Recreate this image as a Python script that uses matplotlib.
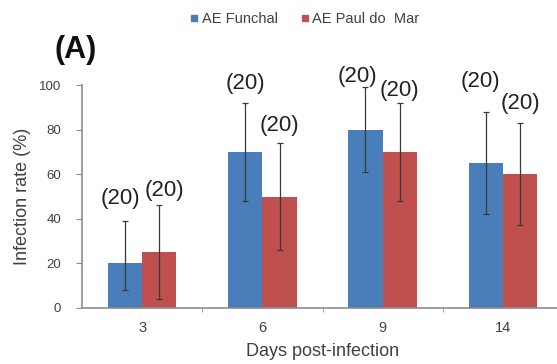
import numpy as np
import matplotlib
matplotlib.use('Agg')
import matplotlib.pyplot as plt
from matplotlib.lines import Line2D

plt.rcParams['font.family'] = ['Liberation Sans', 'DejaVu Sans']

# datos
days = ['3', '6', '9', '14']
funchal = [20, 70, 80, 65]
funchal_lo = [8, 48, 61, 42]     # extremo inferior de la barra de error
funchal_hi = [39, 92, 99, 88]    # extremo superior
paul = [25, 50, 70, 60]
paul_lo = [4, 26, 48, 37]
paul_hi = [46, 74, 92, 83]
n_funchal = [20, 20, 20, 20]
n_paul = [20, 20, 20, 20]

# desplazamiento (px) de las etiquetas "(n)" respecto al extremo superior
off_funchal = [(-5, 23), (0, 19), (-8, 11), (-5, 30)]
off_paul = [(5, 15), (0, 17), (0, 12), (0, 19)]

c_blue = '#4A7EBB'
c_red = '#C0504D'
grey = '#8C8C8C'
txt = '#404040'

fig = plt.figure(figsize=(5.57, 3.64), dpi=100)
ax = fig.add_axes([82 / 557, 56 / 364, 481 / 557, 223 / 364])

x = np.arange(len(days))
w = 0.285

for vals, lo, hi, col, sgn, ns, offs in [
        (funchal, funchal_lo, funchal_hi, c_blue, -1, n_funchal, off_funchal),
        (paul, paul_lo, paul_hi, c_red, 1, n_paul, off_paul)]:
    xs = x + sgn * w / 2
    ax.bar(xs, vals, width=w, color=col, zorder=2)
    vals = np.array(vals)
    yerr = [vals - np.array(lo), np.array(hi) - vals]
    ax.errorbar(xs, vals, yerr=yerr, fmt='none', ecolor='#3a3a3a',
                elinewidth=0.9, capsize=2.5, capthick=0.9, zorder=3)
    for xi, h, n, (dx, dy) in zip(xs, hi, ns, offs):
        ax.annotate(f'({n})', (xi, h), xytext=(dx, dy), textcoords='offset pixels',
                    ha='center', va='center', fontsize=16, color='#222222')

ax.set_xlim(-0.5, 3.5)
ax.set_ylim(0, 100)
ax.set_yticks([0, 20, 40, 60, 80, 100])
ax.set_xticks(x)
ax.set_xticklabels(days)
ax.set_xticks([0.5, 1.5, 2.5], minor=True)
ax.tick_params(axis='x', which='major', length=0, pad=9, labelsize=10.5, colors=txt)
ax.tick_params(axis='x', which='minor', length=3, color=grey)
ax.tick_params(axis='y', length=4, color=grey, labelsize=9.5, colors=txt, pad=11)
for s in ['top', 'right']:
    ax.spines[s].set_visible(False)
for s in ['left', 'bottom']:
    ax.spines[s].set_color(grey)
    ax.spines[s].set_linewidth(1.2)

ax.set_ylabel('Infection rate (%)', fontsize=13, color=txt, labelpad=6)
ax.set_xlabel('Days post-infection', fontsize=13, color=txt, labelpad=6)

handles = [Line2D([], [], marker='s', ls='none', color=c_blue, markersize=5),
           Line2D([], [], marker='s', ls='none', color=c_red, markersize=5)]
fig.legend(handles, ['AE Funchal', 'AE Paul do  Mar'], loc='center',
           bbox_to_anchor=(304 / 557, 1 - 19 / 364), ncol=2, frameon=False,
           fontsize=10.5, handletextpad=0.1, columnspacing=1.5, handlelength=0.8,
           labelcolor=txt)

fig.text(76 / 557, 1 - 50 / 364, '(A)', fontsize=22, fontweight='bold',
         ha='center', va='center', color='#111111')

fig.savefig('out.png', dpi=100)
